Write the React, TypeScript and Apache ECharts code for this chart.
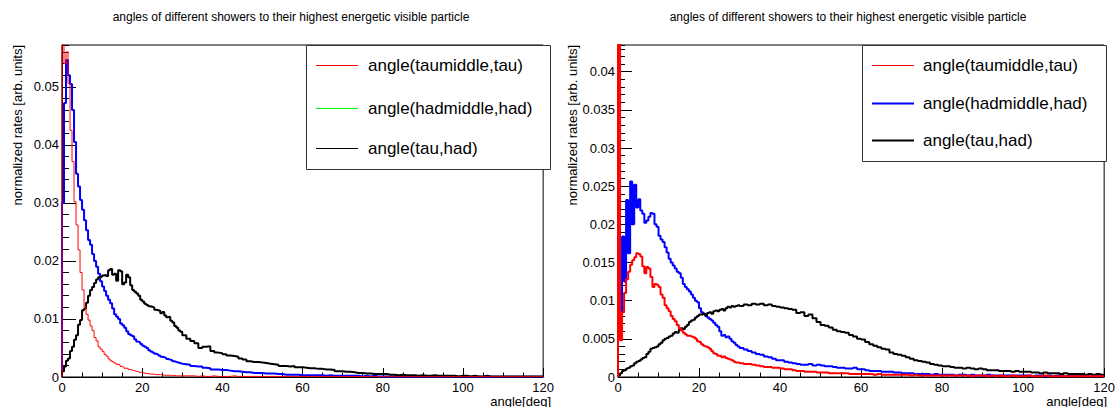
import React, { useEffect, useRef } from "react";
import * as echarts from "echarts";

const FONT = "'Liberation Sans', Arial, Helvetica, sans-serif";
const TITLE = "angles of different showers to their highest energetic visible particle";
const X_TITLE = "angle[deg]";
const Y_TITLE = "normalized rates [arb. units]";
const NAMES = ["angle(taumiddle,tau)", "angle(hadmiddle,had)", "angle(tau,had)"];

// bins: 0.5 deg wide from 0 to 30 (60 bins), 1 deg wide from 30 to 120 (90 bins)
const FINE_W = 0.5;
const FINE_END = 30;
const COARSE_W = 1;
const X_MAX = 120;

// ---------- left panel ----------
const L_TAU_FINE = [
  0.0700, 0.0540, 0.0560, 0.0506, 0.0425, 0.0371, 0.0302, 0.0262, 0.0219, 0.0180,
  0.0150, 0.0121, 0.0108, 0.0098, 0.0088, 0.0080, 0.0068, 0.0062, 0.0052, 0.0048,
  0.0044, 0.0039, 0.0036, 0.0031, 0.0028, 0.0026, 0.0024, 0.0022, 0.0021, 0.0018,
  0.0017, 0.0015, 0.0015, 0.0013, 0.0012, 0.0011, 0.0010, 0.0009, 0.0008, 0.0008,
  0.0007, 0.0006, 0.0006, 0.0005, 0.0005, 0.0005, 0.0004, 0.0004, 0.0004, 0.0004,
  0.0003, 0.0003, 0.0003, 0.0003, 0.0002, 0.0003, 0.0002, 0.0002, 0.0002, 0.0002,
];
const L_TAU_COARSE = [
  0.0002, 0.0002, 0.0002, 0.0001, 0.0002, 0.0001, 0.0001, 0.0002, 0.0001, 0.0001,
  0.0001, 0.0001, 0.0002, 0.0001, 0.0001, 0.0001, 0.0001, 0.0001, 0.0001, 0.0001,
  0.0001, 0.0001, 0.0001, 0.0001, 0.0001, 0.0001, 0.0001, 0.0001, 0.0001, 0.0001,
  0.0001, 0.0001, 0.0001, 0.0001, 0.0001, 0.0001, 0.0001, 0.0001, 0.0001, 0.0001,
  0.0001, 0.00005, 0.0001, 0.00005, 0.0001, 0.00005, 0.00005, 0.0001, 0.00005, 0.00005,
  0.00005, 0.00005, 0.00005, 0.00005, 0.00005, 0.00005, 0.00005, 0.00005, 0.00005, 0.00005,
  0.00005, 0.00005, 0.00005, 0.00005, 0.00005, 0.00005, 0.00005, 0.00005, 0.00005, 0.00005,
  0.00005, 0.00005, 0.00005, 0.00005, 0.00005, 0.00005, 0.00005, 0.00005, 0.00005, 0.00005,
  0.00005, 0.00005, 0.00005, 0.00005, 0.00005, 0.00005, 0.00005, 0.00005, 0.00005, 0.00005,
];
const L_HAD_FINE = [
  0.0300, 0.0472, 0.0546, 0.0520, 0.0505, 0.0460, 0.0405, 0.0350, 0.0328, 0.0305,
  0.0288, 0.0270, 0.0253, 0.0236, 0.0228, 0.0212, 0.0200, 0.0190, 0.0178, 0.0165,
  0.0156, 0.0148, 0.0140, 0.0133, 0.0127, 0.0118, 0.0108, 0.0104, 0.0100, 0.0092,
  0.0089, 0.0085, 0.0079, 0.0074, 0.0072, 0.0070, 0.0065, 0.0061, 0.0060, 0.0057,
  0.0054, 0.0052, 0.0050, 0.0046, 0.0044, 0.0042, 0.0040, 0.0039, 0.0037, 0.0035,
  0.0034, 0.0033, 0.0031, 0.0030, 0.0029, 0.0027, 0.0026, 0.0025, 0.0024, 0.0023,
];
const L_HAD_COARSE = [
  0.0022, 0.0021, 0.0019, 0.0018, 0.0018, 0.0016, 0.0015, 0.0013, 0.0013, 0.0012,
  0.0012, 0.0011, 0.0010, 0.0010, 0.0009, 0.0008, 0.0008, 0.0007, 0.0007, 0.0007,
  0.0006, 0.0006, 0.0006, 0.0005, 0.0005, 0.0004, 0.0004, 0.0004, 0.0004, 0.0003,
  0.0003, 0.0003, 0.0003, 0.0003, 0.0003, 0.0002, 0.0003, 0.0002, 0.0002, 0.0002,
  0.0002, 0.0002, 0.0002, 0.0002, 0.0001, 0.0002, 0.0001, 0.0002, 0.0001, 0.0001,
  0.0001, 0.0001, 0.0001, 0.0001, 0.0001, 0.0001, 0.0001, 0.0001, 0.0001, 0.0001,
  0.0001, 0.0001, 0.0001, 0.0001, 0.0001, 0.0001, 0.0001, 0.0001, 0.0001, 0.0001,
  0.0001, 0.00005, 0.0001, 0.00005, 0.00005, 0.0001, 0.00005, 0.00005, 0.00005, 0.00005,
  0.00005, 0.00005, 0.00005, 0.00005, 0.00005, 0.00005, 0.00005, 0.00005, 0.00005, 0.00005,
];
const L_TH_FINE = [
  0.0010, 0.0018, 0.0028, 0.0032, 0.0045, 0.0052, 0.0064, 0.0072, 0.0090, 0.0098,
  0.0115, 0.0118, 0.0128, 0.0140, 0.0150, 0.0155, 0.0162, 0.0168, 0.0172, 0.0173,
  0.0175, 0.0176, 0.0174, 0.0184, 0.0186, 0.0176, 0.0178, 0.0166, 0.0184, 0.0182,
  0.0160, 0.0163, 0.0176, 0.0172, 0.0158, 0.0150, 0.0147, 0.0144, 0.0140, 0.0133,
  0.0130, 0.0126, 0.0124, 0.0122, 0.0121, 0.0120, 0.0116, 0.0115, 0.0114, 0.0110,
  0.0112, 0.0106, 0.0103, 0.0104, 0.0097, 0.0094, 0.0088, 0.0085, 0.0080, 0.0078,
];
const L_TH_COARSE = [
  0.0072, 0.0066, 0.0062, 0.0058, 0.0050, 0.0052, 0.0053, 0.0045, 0.0042, 0.0041,
  0.0039, 0.0037, 0.0036, 0.0035, 0.0032, 0.0030, 0.0027, 0.0026, 0.0026, 0.0025,
  0.0024, 0.0023, 0.0022, 0.0021, 0.0019, 0.0019, 0.0018, 0.0019, 0.0017, 0.0017,
  0.0016, 0.0015, 0.0015, 0.0014, 0.0014, 0.0013, 0.0013, 0.0012, 0.0010, 0.0010,
  0.0009, 0.0009, 0.0008, 0.0007, 0.0007, 0.0006, 0.0006, 0.0005, 0.0005, 0.0005,
  0.0005, 0.0004, 0.0004, 0.0003, 0.0004, 0.0003, 0.0003, 0.0003, 0.0002, 0.0003,
  0.0002, 0.0002, 0.0003, 0.0002, 0.0002, 0.0002, 0.0002, 0.0002, 0.0001, 0.0002,
  0.0002, 0.0001, 0.0002, 0.0001, 0.0001, 0.0002, 0.0001, 0.0001, 0.0001, 0.0001,
  0.0001, 0.0001, 0.0001, 0.0001, 0.0001, 0.0001, 0.0001, 0.0001, 0.0001, 0.0001,
];

// ---------- right panel ----------
const R_TAU_FINE = [
  0.0600, 0.0048, 0.0085, 0.0110, 0.0128, 0.0138, 0.0147, 0.0153, 0.0157, 0.0162,
  0.0161, 0.0158, 0.0145, 0.0136, 0.0144, 0.0142, 0.0131, 0.0118, 0.0122, 0.0121,
  0.0118, 0.0108, 0.0104, 0.0094, 0.0090, 0.0086, 0.0080, 0.0076, 0.0073, 0.0068,
  0.0064, 0.0061, 0.0058, 0.0056, 0.0054, 0.0054, 0.0053, 0.0052, 0.0050, 0.0047,
  0.0046, 0.0043, 0.0041, 0.0040, 0.0039, 0.0037, 0.0034, 0.0031, 0.0030, 0.0028,
  0.0028, 0.0026, 0.0027, 0.0025, 0.0024, 0.0023, 0.0022, 0.0020, 0.0019, 0.0019,
];
const R_TAU_COARSE = [
  0.0018, 0.0017, 0.0017, 0.0016, 0.0015, 0.0014, 0.0013, 0.0013, 0.0012, 0.0012,
  0.0011, 0.0010, 0.0010, 0.0009, 0.0008, 0.0008, 0.0007, 0.0007, 0.0007, 0.0006,
  0.0006, 0.0006, 0.0005, 0.0005, 0.0005, 0.0005, 0.0005, 0.0004, 0.0004, 0.0004,
  0.0004, 0.0004, 0.0004, 0.0003, 0.0004, 0.0003, 0.0003, 0.0003, 0.0003, 0.0003,
  0.0003, 0.0003, 0.0002, 0.0003, 0.0002, 0.0002, 0.0002, 0.0002, 0.0002, 0.0002,
  0.0002, 0.0002, 0.0002, 0.0002, 0.0002, 0.0002, 0.0002, 0.0001, 0.0002, 0.0002,
  0.0002, 0.0001, 0.0002, 0.0001, 0.0002, 0.0001, 0.0001, 0.0002, 0.0001, 0.0001,
  0.0001, 0.0002, 0.0001, 0.0001, 0.0001, 0.0002, 0.0001, 0.0001, 0.0001, 0.0001,
  0.0001, 0.0001, 0.0001, 0.0001, 0.0001, 0.0001, 0.0001, 0.0001, 0.0001, 0.0001,
];
const R_HAD_FINE = [
  0.0060, 0.0085, 0.0184, 0.0125, 0.0232, 0.0162, 0.0256, 0.0200, 0.0252, 0.0222,
  0.0233, 0.0218, 0.0214, 0.0202, 0.0205, 0.0210, 0.0215, 0.0214, 0.0200, 0.0197,
  0.0185, 0.0180, 0.0177, 0.0170, 0.0163, 0.0155, 0.0150, 0.0146, 0.0142, 0.0138,
  0.0136, 0.0130, 0.0122, 0.0118, 0.0115, 0.0112, 0.0108, 0.0104, 0.0100, 0.0098,
  0.0090, 0.0085, 0.0083, 0.0080, 0.0078, 0.0076, 0.0074, 0.0071, 0.0068, 0.0066,
  0.0060, 0.0054, 0.0055, 0.0052, 0.0053, 0.0050, 0.0047, 0.0045, 0.0042, 0.0040,
];
const R_HAD_COARSE = [
  0.0038, 0.0036, 0.0034, 0.0032, 0.0030, 0.0029, 0.0027, 0.0026, 0.0024, 0.0022,
  0.0022, 0.0020, 0.0019, 0.0018, 0.0017, 0.0016, 0.0016, 0.0017, 0.0015, 0.0016,
  0.0015, 0.0014, 0.0014, 0.0013, 0.0012, 0.0012, 0.0011, 0.0011, 0.0012, 0.0010,
  0.0010, 0.0009, 0.0008, 0.0008, 0.0008, 0.0007, 0.0007, 0.0007, 0.0006, 0.0006,
  0.0005, 0.0005, 0.0005, 0.0004, 0.0004, 0.0004, 0.0004, 0.0003, 0.0004, 0.0003,
  0.0003, 0.0003, 0.0003, 0.0002, 0.0003, 0.0003, 0.0002, 0.0003, 0.0002, 0.0002,
  0.0002, 0.0003, 0.0002, 0.0002, 0.0002, 0.0002, 0.0002, 0.0002, 0.0002, 0.0002,
  0.0002, 0.0002, 0.0001, 0.0002, 0.0002, 0.0001, 0.0002, 0.0001, 0.0002, 0.0001,
  0.0001, 0.0002, 0.0001, 0.0001, 0.0002, 0.0001, 0.0001, 0.0001, 0.0001, 0.0001,
];
const R_TH_FINE = [
  0.0002, 0.0005, 0.0008, 0.0009, 0.0011, 0.0012, 0.0014, 0.0015, 0.0018, 0.0020,
  0.0021, 0.0023, 0.0025, 0.0026, 0.0030, 0.0033, 0.0037, 0.0038, 0.0039, 0.0040,
  0.0043, 0.0045, 0.0048, 0.0050, 0.0051, 0.0053, 0.0054, 0.0057, 0.0059, 0.0058,
  0.0062, 0.0064, 0.0063, 0.0066, 0.0068, 0.0072, 0.0074, 0.0075, 0.0078, 0.0080,
  0.0082, 0.0082, 0.0083, 0.0081, 0.0084, 0.0085, 0.0083, 0.0086, 0.0087, 0.0086,
  0.0088, 0.0089, 0.0087, 0.0090, 0.0092, 0.0091, 0.0093, 0.0092, 0.0093, 0.0094,
];
const R_TH_COARSE = [
  0.0093, 0.0095, 0.0094, 0.0096, 0.0095, 0.0096, 0.0094, 0.0095, 0.0093, 0.0092,
  0.0091, 0.0090, 0.0089, 0.0088, 0.0084, 0.0085, 0.0080, 0.0082, 0.0077, 0.0072,
  0.0068, 0.0067, 0.0065, 0.0062, 0.0060, 0.0059, 0.0058, 0.0055, 0.0053, 0.0050,
  0.0049, 0.0046, 0.0043, 0.0041, 0.0039, 0.0037, 0.0036, 0.0032, 0.0030, 0.0029,
  0.0028, 0.0026, 0.0024, 0.0022, 0.0021, 0.0020, 0.0019, 0.0017, 0.0016, 0.0015,
  0.0014, 0.0014, 0.0013, 0.0012, 0.0012, 0.0011, 0.0012, 0.0011, 0.0010, 0.0011,
  0.0010, 0.0009, 0.0009, 0.0009, 0.0008, 0.0008, 0.0008, 0.0007, 0.0008, 0.0007,
  0.0007, 0.0007, 0.0006, 0.0006, 0.0005, 0.0006, 0.0005, 0.0005, 0.0005, 0.0004,
  0.0005, 0.0004, 0.0004, 0.0004, 0.0004, 0.0003, 0.0004, 0.0003, 0.0004, 0.0003,
];

const X_TICKS = [0, 20, 40, 60, 80, 100, 120];

function toSteps(fine: number[], coarse: number[]): number[][] {
  const pts: number[][] = [[0, 0]];
  fine.forEach((v, i) => pts.push([i * FINE_W, v]));
  coarse.forEach((v, i) => pts.push([FINE_END + i * COARSE_W, v]));
  pts.push([X_MAX, coarse[coarse.length - 1]]);
  return pts;
}

type SeriesCfg = { name: string; color: string; width: number; fine: number[]; coarse: number[] };
type PanelCfg = {
  yMax: number;
  yInterval: number;
  yMinor: number;
  grid: { left: number; top: number; width: number; height: number };
  series: SeriesCfg[];
  legendColors: string[];
  legendWidths: number[];
  box: { x: number; y: number; w: number; h: number };
  rows: number[];
  sample: [number, number];
  textX: number;
  titleX: number;
  yTitleX: number;
  xTitleRight: number;
};

const LEFT: PanelCfg = {
  yMax: 0.0572,
  yInterval: 0.01,
  yMinor: 0.002,
  grid: { left: 62, top: 45, width: 488, height: 332 },
  series: [
    { name: NAMES[1], color: "#0000ff", width: 2, fine: L_HAD_FINE, coarse: L_HAD_COARSE },
    { name: NAMES[2], color: "#000000", width: 2, fine: L_TH_FINE, coarse: L_TH_COARSE },
    { name: NAMES[0], color: "#ff0000", width: 1, fine: L_TAU_FINE, coarse: L_TAU_COARSE },
  ],
  legendColors: ["#ff0000", "#00ff00", "#000000"],
  legendWidths: [1, 1, 1],
  box: { x: 306.5, y: 45.5, w: 244, h: 124 },
  rows: [65, 108, 148],
  sample: [316, 358],
  textX: 368,
  titleX: 291,
  yTitleX: 17,
  xTitleRight: 551,
};

const RIGHT: PanelCfg = {
  yMax: 0.0435,
  yInterval: 0.005,
  yMinor: 0.001,
  grid: { left: 61, top: 45, width: 489, height: 332 },
  series: [
    { name: NAMES[1], color: "#0000ff", width: 2, fine: R_HAD_FINE, coarse: R_HAD_COARSE },
    { name: NAMES[2], color: "#000000", width: 2, fine: R_TH_FINE, coarse: R_TH_COARSE },
    { name: NAMES[0], color: "#ff0000", width: 2, fine: R_TAU_FINE, coarse: R_TAU_COARSE },
  ],
  legendColors: ["#ff0000", "#0000ff", "#000000"],
  legendWidths: [1, 2, 2],
  box: { x: 305.5, y: 45.5, w: 244, h: 116 },
  rows: [65, 103, 140],
  sample: [315, 357],
  textX: 366,
  titleX: 291,
  yTitleX: 15,
  xTitleRight: 550,
};

function buildOption(cfg: PanelCfg) {
  const black = "#000000";
  const graphic: any[] = [
    {
      type: "text",
      x: cfg.titleX,
      y: 17,
      style: { text: TITLE, fontSize: 12, fontFamily: FONT, fill: black, align: "center", verticalAlign: "middle", textAlign: "center", textVerticalAlign: "middle" },
    },
    {
      type: "text",
      x: cfg.yTitleX,
      y: 45,
      rotation: Math.PI / 2,
      style: { text: Y_TITLE, fontSize: 13, fontFamily: FONT, fill: black, align: "right", verticalAlign: "middle", textAlign: "right", textVerticalAlign: "middle" },
    },
    {
      type: "text",
      x: cfg.xTitleRight,
      y: 401,
      style: { text: X_TITLE, fontSize: 13, fontFamily: FONT, fill: black, align: "right", verticalAlign: "middle", textAlign: "right", textVerticalAlign: "middle" },
    },
  ];
  const legendChildren: any[] = [
    {
      type: "rect",
      shape: { x: cfg.box.x, y: cfg.box.y, width: cfg.box.w, height: cfg.box.h },
      style: { fill: "#ffffff", stroke: "#333333", lineWidth: 1 },
    },
  ];
  NAMES.forEach((n, i) => {
    legendChildren.push({
      type: "line",
      shape: { x1: cfg.sample[0], y1: cfg.rows[i] + 0.5, x2: cfg.sample[1], y2: cfg.rows[i] + 0.5 },
      style: { stroke: cfg.legendColors[i], lineWidth: cfg.legendWidths[i] },
    });
    legendChildren.push({
      type: "text",
      x: cfg.textX,
      y: cfg.rows[i],
      style: { text: n, fontSize: 17, fontFamily: FONT, fill: black, align: "left", verticalAlign: "middle", textAlign: "left", textVerticalAlign: "middle" },
    });
  });
  graphic.push({ type: "group", z: 100, children: legendChildren });

  const axisLine = { show: true, lineStyle: { color: black, width: 1 } };
  return {
    animation: false,
    backgroundColor: "#ffffff",
    grid: { ...cfg.grid, show: true, borderColor: black, borderWidth: 1, backgroundColor: "#ffffff", containLabel: false },
    xAxis: [
      {
        type: "value",
        position: "bottom",
        min: 0,
        max: X_MAX,
        interval: X_TICKS[1] - X_TICKS[0],
        axisLine,
        axisTick: { show: true, inside: true, length: 9, lineStyle: { color: black } },
        minorTick: { show: true, splitNumber: 4, length: 4.5, lineStyle: { color: black } },
        axisLabel: { color: black, fontSize: 13, fontFamily: FONT, margin: 4 },
        splitLine: { show: false },
        minorSplitLine: { show: false },
      },
    ],
    yAxis: [
      {
        type: "value",
        position: "left",
        min: 0,
        max: cfg.yMax,
        interval: cfg.yInterval,
        axisLine,
        axisTick: { show: true, inside: true, length: 14, lineStyle: { color: black } },
        axisLabel: { color: black, fontSize: 13, fontFamily: FONT, margin: 3, showMaxLabel: false },
        splitLine: { show: false },
      },
      {
        type: "value",
        position: "left",
        offset: 0,
        min: 0,
        max: cfg.yMax,
        interval: cfg.yMinor,
        axisLine: { show: false },
        axisTick: { show: true, inside: true, length: 7, lineStyle: { color: black } },
        axisLabel: { show: false },
        splitLine: { show: false },
      },
    ],
    series: cfg.series.map((s, i) => ({
      type: "line",
      name: s.name,
      step: "end",
      xAxisIndex: 0,
      yAxisIndex: 0,
      data: toSteps(s.fine, s.coarse),
      symbol: "none",
      showSymbol: false,
      clip: true,
      silent: true,
      z: 2 + i,
      lineStyle: { color: s.color, width: s.width },
      itemStyle: { color: s.color },
    })),
    graphic,
  };
}

export default function App() {
  const leftRef = useRef<HTMLDivElement>(null);
  const rightRef = useRef<HTMLDivElement>(null);
  useEffect(() => {
    const charts: any[] = [];
    if (leftRef.current) {
      const c = echarts.init(leftRef.current, null, { renderer: "svg" });
      c.setOption(buildOption(LEFT) as any);
      charts.push(c);
    }
    if (rightRef.current) {
      const c = echarts.init(rightRef.current, null, { renderer: "svg" });
      c.setOption(buildOption(RIGHT) as any);
      charts.push(c);
    }
    return () => charts.forEach((c) => c.dispose());
  }, []);
  return (
    <div style={{ position: "fixed", left: 0, top: 0, width: 1118, height: 407, background: "#ffffff", overflow: "hidden" }}>
      <div ref={leftRef} style={{ position: "absolute", left: 0, top: 0, width: 557, height: 407, overflow: "hidden" }} />
      <div ref={rightRef} style={{ position: "absolute", left: 557, top: 0, width: 561, height: 407, overflow: "hidden" }} />
    </div>
  );
}
